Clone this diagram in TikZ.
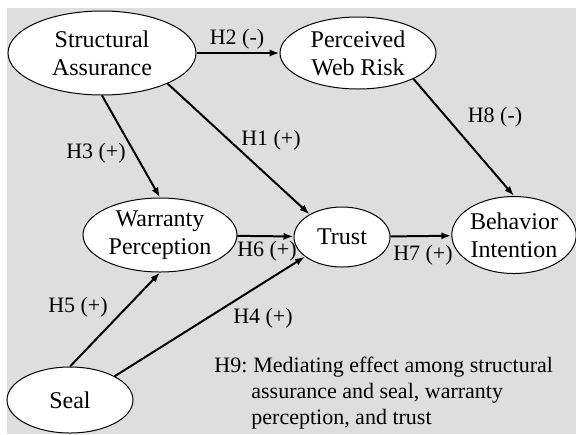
\documentclass[tikz,border=0pt]{standalone}
\usepackage{fontspec}
\setmainfont{Liberation Serif}
\usetikzlibrary{shapes}
\usetikzlibrary{arrows.meta}
\tikzset{
    construct/.style = {ellipse, draw=black, line width=0.5pt, fill=white, align=center, inner sep=0pt, font=\fontsize{12}{14}\selectfont},
    hyplabel/.style = {inner sep=0pt, font=\fontsize{11}{13.2}\selectfont},
    edgen/.style = {-{Latex[length=5pt,width=3.6pt]}, line width=1pt},
}

\begin{document}
\begin{tikzpicture}[x=0.5pt,y=-0.5pt]
  \useasboundingbox (0,0) rectangle (576,434);
  \fill[black!13] (7,8) rectangle (576,434);

  % constructs
  \node[construct, minimum width=94pt, minimum height=42pt] (sa) at (102,53) {Structural\\Assurance};
  \node[construct, minimum width=78pt, minimum height=36pt] (pwr) at (358,53) {Perceived\\Web Risk};
  \node[construct, minimum width=77pt, minimum height=37pt] (wp) at (160,235) {Warranty\\Perception};
  \node[construct, minimum width=48pt, minimum height=30pt] (trust) at (342,237) {Trust};
  \node[construct, minimum width=61pt, minimum height=38.5pt] (bi) at (514,235) {Behavior\\Intention};
  \node[construct, minimum width=63pt, minimum height=33pt] (seal) at (70,400) {Seal};

  % hypotheses
  \draw[edgen] (sa.east) -- (pwr.west);
  \draw[edgen] (sa.-25) -- (trust.145);
  \draw[edgen] (sa.south) -- (wp.north);
  \draw[edgen] (pwr.-25) -- (bi.north);
  \draw[edgen] (wp) -- (trust);
  \draw[edgen] (trust) -- (bi);
  \draw[edgen] (seal.north) -- (wp.south);
  \draw[edgen] (seal.28) -- (trust.-152);

  \node[hyplabel] (h2) at (237,39) {H2 (-)};
  \node[hyplabel] (h1) at (271,140) {H1 (+)};
  \node[hyplabel] (h3) at (96,153) {H3 (+)};
  \node[hyplabel] (h8) at (495,117) {H8 (-)};
  \node[hyplabel] (h6) at (267,251) {H6 (+)};
  \node[hyplabel] (h7) at (423,255) {H7 (+)};
  \node[hyplabel] (h5) at (78,307) {H5 (+)};
  \node[hyplabel] (h4) at (263,318) {H4 (+)};

  \node[hyplabel, anchor=base west] (h9) at (214,372) {\begin{tabular}[t]{@{}l@{\hspace{2pt}}l@{}}
    H9: & \hspace{1pt}Mediating effect among structural\\
        & assurance and seal, warranty\\
        & perception, and trust
  \end{tabular}};
\end{tikzpicture}
\end{document}
